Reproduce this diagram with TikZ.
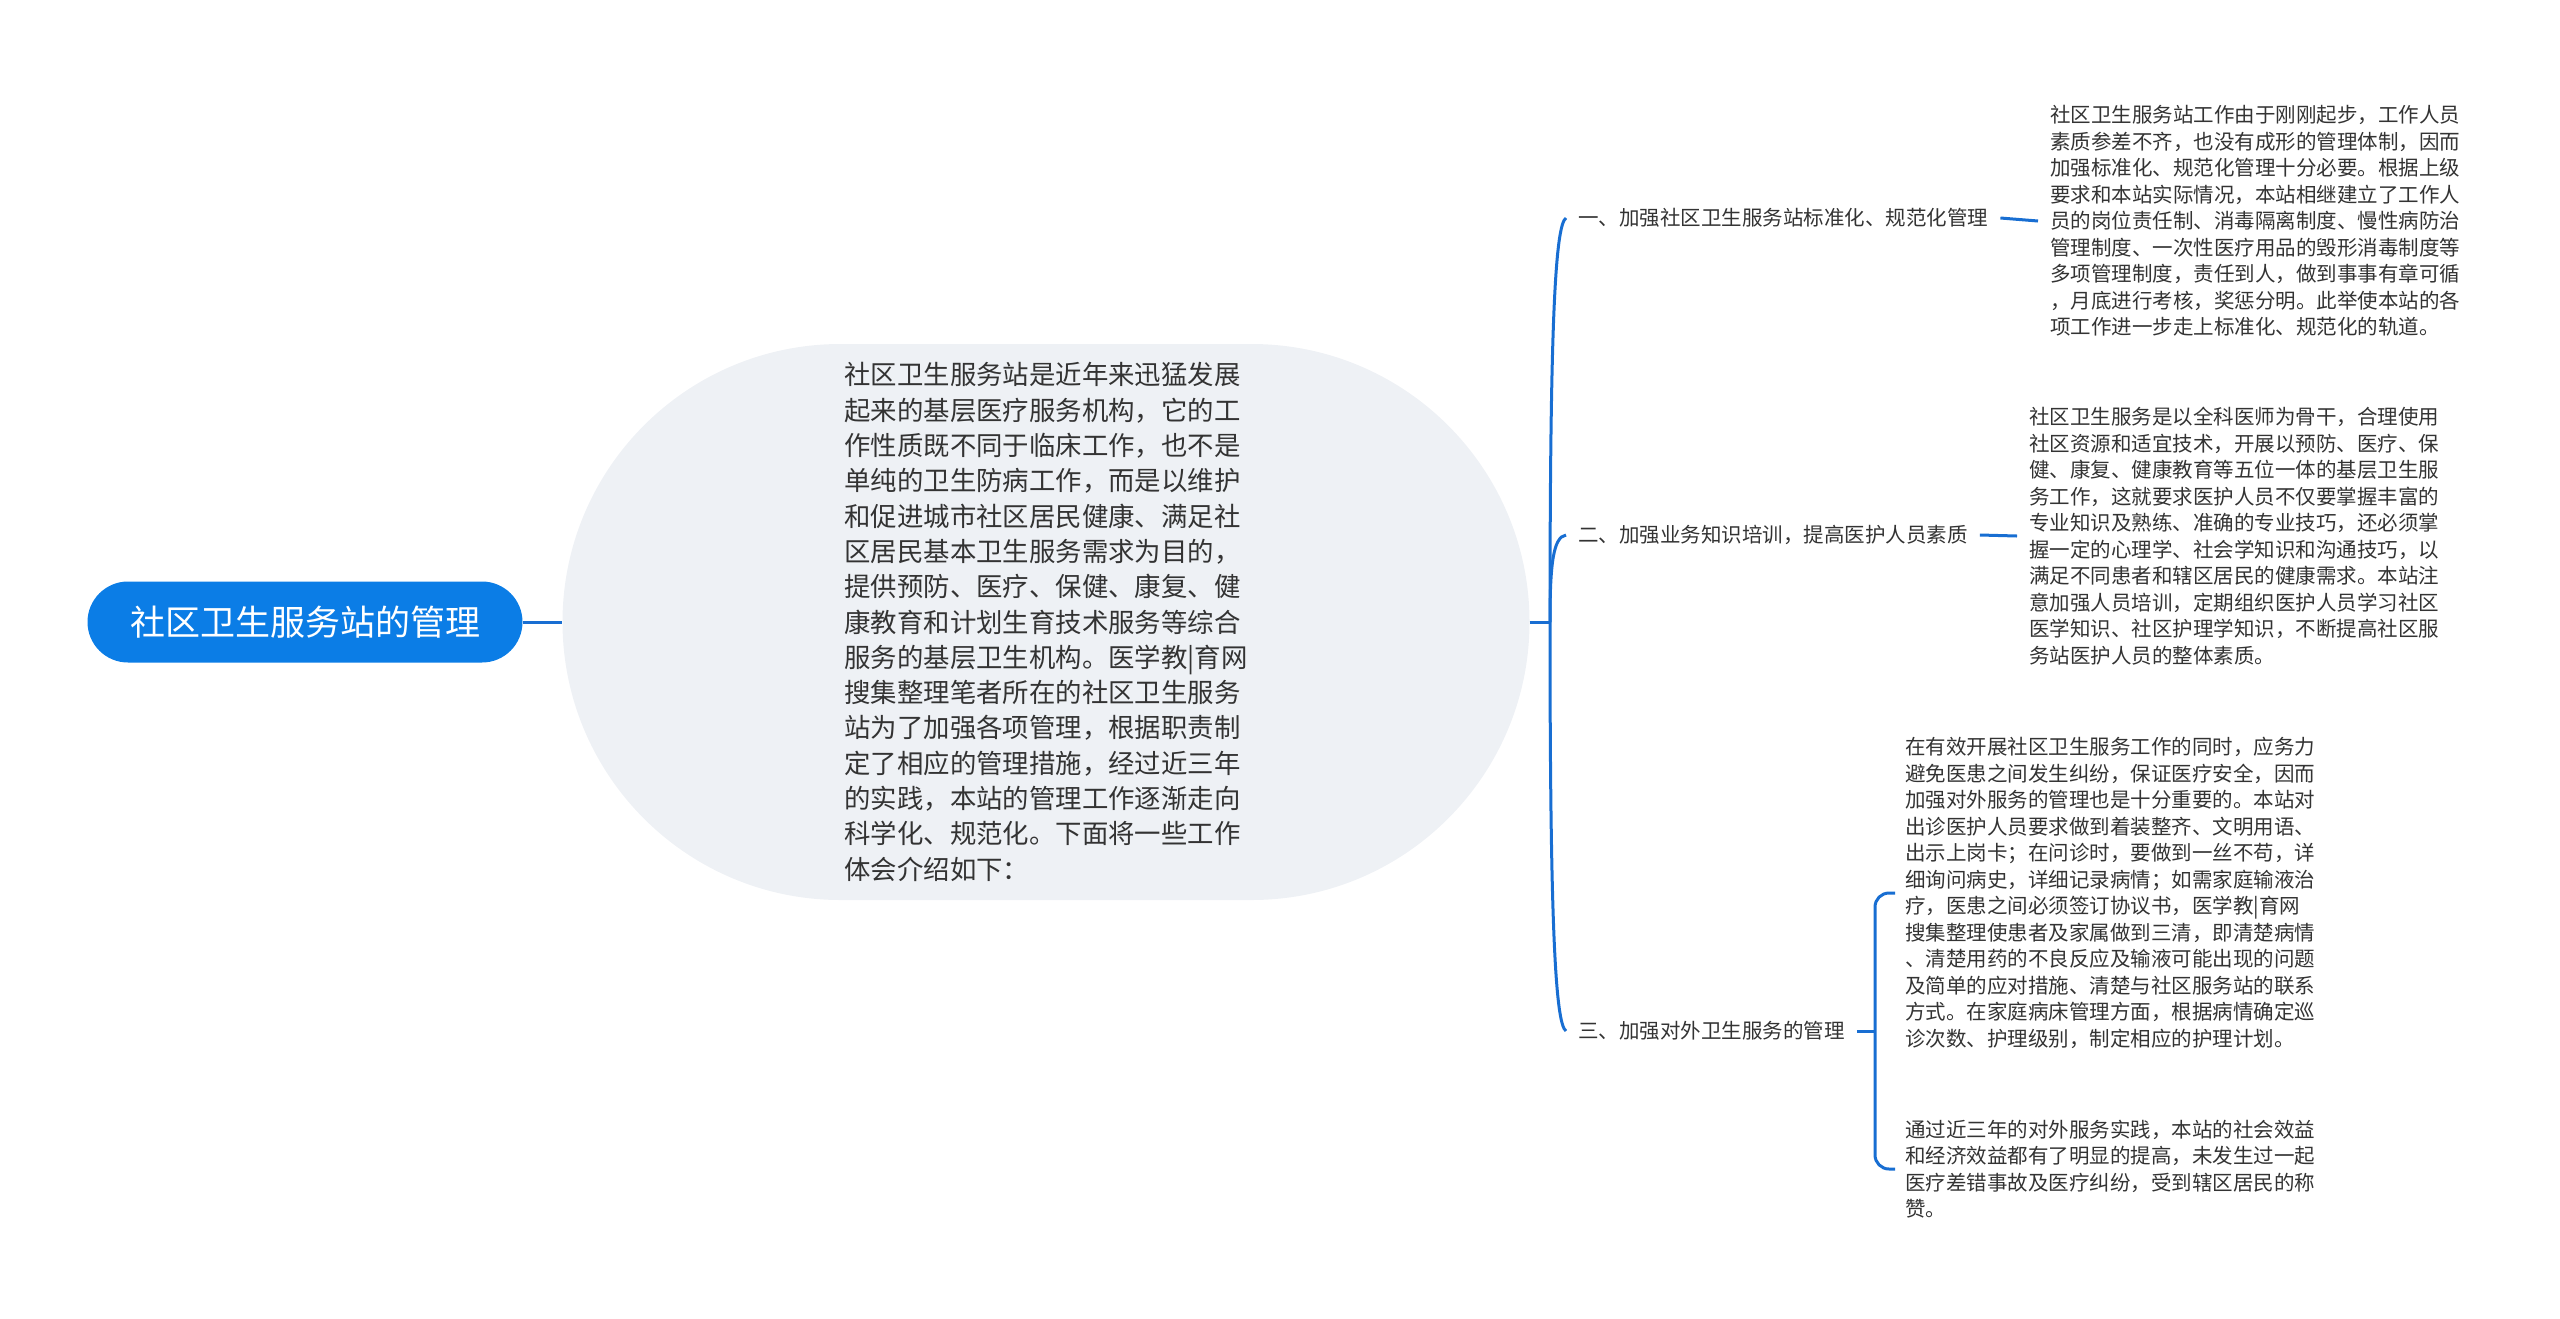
\documentclass[tikz,border=0pt]{standalone}
\usepackage{fontspec}
\setmainfont{Noto Sans CJK SC}
\usetikzlibrary{shapes.misc}

\definecolor{rootblue}{RGB}{11,125,230}
\definecolor{linkblue}{RGB}{24,110,210}
\definecolor{bubble}{RGB}{238,241,245}
\definecolor{ink}{RGB}{51,51,51}

\begin{document}
\begin{tikzpicture}[x = 1pt, y = -1pt,
	link/.style = {draw = linkblue, line width = 3pt},
	topic/.style = {anchor = west, inner xsep = 12pt, inner ysep = 0pt, text = ink, align = left,
		font = \fontsize{20.5pt}{26.5pt}\selectfont}]
	\useasboundingbox (0,0) rectangle (2560,1318);

	% root and central bubble
	\node[rounded rectangle, fill = rootblue, text = white, minimum width = 435pt, minimum height = 81pt,
		inner sep = 0pt, font = \fontsize{35pt}{42pt}\selectfont] (root) at (305,622) {社区卫生服务站的管理};
	\node[rounded rectangle, fill = bubble, text = ink, minimum width = 967pt, minimum height = 556pt,
		inner sep = 0pt, align = left, font = \fontsize{26.4pt}{35.3pt}\selectfont] (main) at (1046,622) {%
		社区卫生服务站是近年来迅猛发展\\
		起来的基层医疗服务机构，它的工\\
		作性质既不同于临床工作，也不是\\
		单纯的卫生防病工作，而是以维护\\
		和促进城市社区居民健康、满足社\\
		区居民基本卫生服务需求为目的，\\
		提供预防、医疗、保健、康复、健\\
		康教育和计划生育技术服务等综合\\
		服务的基层卫生机构。医学教|育网\\
		搜集整理笔者所在的社区卫生服务\\
		站为了加强各项管理，根据职责制\\
		定了相应的管理措施，经过近三年\\
		的实践，本站的管理工作逐渐走向\\
		科学化、规范化。下面将一些工作\\
		体会介绍如下：};

	% branches
	\node[topic] (b1) at (1566,218) {一、加强社区卫生服务站标准化、规范化管理};
	\node[topic] (b2) at (1566,535) {二、加强业务知识培训，提高医护人员素质};
	\node[topic] (b3) at (1566,1031) {三、加强对外卫生服务的管理};

	% details
	\node[topic] (t1) at (2038,221) {%
		社区卫生服务站工作由于刚刚起步，工作人员\\
		素质参差不齐，也没有成形的管理体制，因而\\
		加强标准化、规范化管理十分必要。根据上级\\
		要求和本站实际情况，本站相继建立了工作人\\
		员的岗位责任制、消毒隔离制度、慢性病防治\\
		管理制度、一次性医疗用品的毁形消毒制度等\\
		多项管理制度，责任到人，做到事事有章可循\\
		，月底进行考核，奖惩分明。此举使本站的各\\
		项工作进一步走上标准化、规范化的轨道。};
	\node[topic] (t2) at (2017,536) {%
		社区卫生服务是以全科医师为骨干，合理使用\\
		社区资源和适宜技术，开展以预防、医疗、保\\
		健、康复、健康教育等五位一体的基层卫生服\\
		务工作，这就要求医护人员不仅要掌握丰富的\\
		专业知识及熟练、准确的专业技巧，还必须掌\\
		握一定的心理学、社会学知识和沟通技巧，以\\
		满足不同患者和辖区居民的健康需求。本站注\\
		意加强人员培训，定期组织医护人员学习社区\\
		医学知识、社区护理学知识，不断提高社区服\\
		务站医护人员的整体素质。};
	\node[topic, inner xsep = 10pt] (t3a) at (1895,893) {%
		在有效开展社区卫生服务工作的同时，应务力\\
		避免医患之间发生纠纷，保证医疗安全，因而\\
		加强对外服务的管理也是十分重要的。本站对\\
		出诊医护人员要求做到着装整齐、文明用语、\\
		出示上岗卡；在问诊时，要做到一丝不苟，详\\
		细询问病史，详细记录病情；如需家庭输液治\\
		疗，医患之间必须签订协议书，医学教|育网\\
		搜集整理使患者及家属做到三清，即清楚病情\\
		、清楚用药的不良反应及输液可能出现的问题\\
		及简单的应对措施、清楚与社区服务站的联系\\
		方式。在家庭病床管理方面，根据病情确定巡\\
		诊次数、护理级别，制定相应的护理计划。};
	\node[topic, inner xsep = 10pt] (t3b) at (1895,1169) {%
		通过近三年的对外服务实践，本站的社会效益\\
		和经济效益都有了明显的提高，未发生过一起\\
		医疗差错事故及医疗纠纷，受到辖区居民的称\\
		赞。};

	% connectors
	\coordinate (hub) at (1550,622);
	\coordinate (fork) at (1875,1031);
	\draw[link] (root.east) -- (main.west);
	\draw[link] (main.east) -- (hub);
	\draw[link] (hub) .. controls (1550,330) and (1555,225) .. (b1.west);
	\draw[link] (hub) .. controls (1550,565) and (1553,537) .. (b2.west);
	\draw[link] (hub) .. controls (1550,915) and (1555,1024) .. (b3.west);
	\draw[link] (b1.east) -- (t1.west);
	\draw[link] (b2.east) -- (t2.west);
	\draw[link] (b3.east) -- (fork);
	\draw[link, rounded corners = 14pt] (t3a.west) -| (fork) |- (t3b.west);
\end{tikzpicture}
\end{document}
